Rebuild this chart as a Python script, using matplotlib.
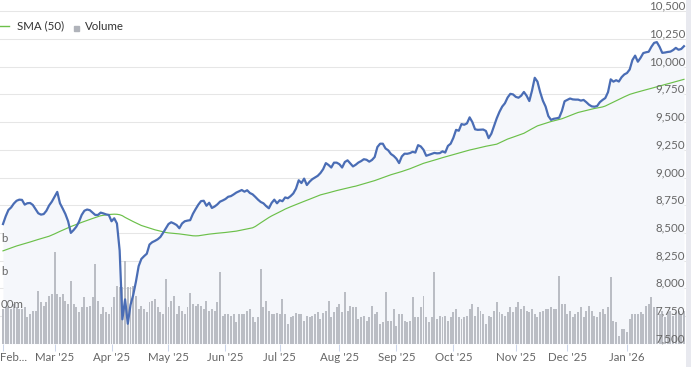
import numpy as np
import pandas as pd
import matplotlib
matplotlib.use('Agg')
import matplotlib.pyplot as plt
import matplotlib.transforms as mtrans
from matplotlib.patches import Rectangle
from matplotlib.lines import Line2D

plt.rcParams['font.family'] = ['Lato', 'DejaVu Sans']

# ---------------- data ----------------
holidays = ['2025-02-17', '2025-04-18', '2025-05-26', '2025-06-19', '2025-07-04',
            '2025-09-01', '2025-11-27', '2025-12-25', '2026-01-01', '2026-01-19']
dates = pd.bdate_range('2025-02-03', '2026-02-03')
dates = dates[~dates.isin(pd.to_datetime(holidays))]

close = [
    8580, 8650, 8707, 8730, 8765, 8790, 8800, 8798, 8755, 8768,
    8770, 8752, 8715, 8677, 8665, 8670, 8700, 8748, 8782, 8825,
    8870, 8767, 8720, 8670, 8605, 8500, 8525, 8555, 8600, 8662,
    8700, 8711, 8705, 8684, 8662, 8662, 8683, 8676, 8667, 8662,
    8605, 8632, 8585, 8340, 7720, 7900, 7680, 7850, 7940, 8060,
    8200, 8265, 8290, 8312, 8395, 8416, 8428, 8442, 8463, 8500,
    8540, 8580, 8596, 8585, 8571, 8542, 8585, 8605, 8611, 8615,
    8672, 8715, 8755, 8787, 8790, 8745, 8772, 8725, 8738, 8757,
    8782, 8793, 8806, 8826, 8832, 8847, 8864, 8875, 8887, 8872,
    8885, 8860, 8848, 8825, 8800, 8779, 8767, 8742, 8722, 8770,
    8800, 8767, 8795, 8786, 8820, 8813, 8832, 8856, 8900, 8975,
    8950, 8990, 8932, 8962, 8985, 9000, 9015, 9040, 9075, 9130,
    9113, 9090, 9134, 9134, 9120, 9090, 9140, 9155, 9128, 9100,
    9115, 9135, 9148, 9165, 9160, 9143, 9158, 9185, 9275, 9305,
    9305, 9262, 9245, 9212, 9195, 9170, 9130, 9190, 9215, 9214,
    9220, 9232, 9225, 9292, 9280, 9250, 9196, 9205, 9215, 9222,
    9218, 9220, 9236, 9225, 9285, 9305, 9358, 9430, 9422, 9482,
    9476, 9488, 9543, 9500, 9435, 9430, 9432, 9433, 9420, 9355,
    9395, 9465, 9535, 9593, 9640, 9670, 9722, 9755, 9750, 9728,
    9720, 9738, 9772, 9738, 9690, 9785, 9900, 9865, 9770, 9693,
    9640, 9555, 9520, 9530, 9534, 9540, 9600, 9688, 9700, 9713,
    9705, 9703, 9703, 9694, 9700, 9680, 9657, 9642, 9639, 9645,
    9680, 9700, 9717, 9770, 9886, 9865, 9878, 9866, 9905, 9930,
    9943, 9975, 10060, 10100, 10045, 10080, 10123, 10130, 10135, 10180,
    10215, 10222, 10180, 10125, 10128, 10133, 10136, 10150, 10170, 10153,
    10160, 10185,
]

sma50 = [
    8338, 8347, 8355, 8364, 8373, 8382, 8389, 8396, 8404, 8411,
    8418, 8426, 8433, 8441, 8448, 8455, 8462, 8470, 8480, 8491,
    8503, 8514, 8525, 8537, 8547, 8557, 8566, 8576, 8586, 8595,
    8604, 8613, 8621, 8630, 8638, 8647, 8655, 8659, 8663, 8666,
    8668, 8669, 8668, 8664, 8655, 8640, 8627, 8615, 8602, 8590,
    8578, 8567, 8559, 8551, 8543, 8535, 8528, 8522, 8516, 8510,
    8504, 8500, 8498, 8496, 8493, 8491, 8488, 8485, 8481, 8477,
    8474, 8473, 8474, 8478, 8481, 8485, 8489, 8492, 8494, 8497,
    8499, 8501, 8504, 8507, 8510, 8513, 8516, 8521, 8526, 8531,
    8536, 8541, 8546, 8558, 8575, 8591, 8607, 8623, 8639, 8653,
    8665, 8677, 8690, 8702, 8715, 8726, 8736, 8746, 8756, 8765,
    8775, 8785, 8794, 8804, 8814, 8824, 8833, 8843, 8849, 8856,
    8862, 8869, 8875, 8882, 8888, 8894, 8900, 8906, 8911, 8917,
    8922, 8929, 8936, 8943, 8950, 8957, 8964, 8972, 8981, 8990,
    8999, 9008, 9017, 9025, 9032, 9040, 9047, 9054, 9062, 9069,
    9079, 9089, 9098, 9108, 9118, 9128, 9135, 9143, 9150, 9157,
    9164, 9172, 9179, 9186, 9193, 9200, 9207, 9214, 9221, 9228,
    9235, 9242, 9248, 9253, 9259, 9265, 9271, 9277, 9282, 9287,
    9291, 9296, 9301, 9312, 9324, 9336, 9347, 9355, 9364, 9373,
    9382, 9390, 9399, 9413, 9426, 9440, 9453, 9466, 9474, 9482,
    9490, 9498, 9505, 9511, 9516, 9522, 9530, 9539, 9549, 9559,
    9569, 9578, 9587, 9593, 9600, 9606, 9612, 9618, 9623, 9627,
    9632, 9637, 9645, 9657, 9669, 9682, 9694, 9706, 9717, 9728,
    9739, 9750, 9758, 9765, 9772, 9778, 9785, 9792, 9798, 9805,
    9812, 9819, 9825, 9832, 9839, 9845, 9852, 9859, 9866, 9872,
    9879, 9886,
]

volume_m = [
    520, 545, 545, 520, 595, 545, 520, 520, 545, 395,
    445, 495, 495, 795, 620, 570, 620, 720, 745, 1370,
    745, 695, 745, 645, 595, 945, 595, 545, 470, 545,
    695, 545, 570, 695, 1195, 645, 445, 545, 470, 445,
    545, 695, 870, 845, 845, 1245, 845, 845, 870, 720,
    520, 570, 520, 470, 620, 645, 670, 545, 470, 445,
    970, 545, 645, 720, 445, 570, 495, 445, 545, 755,
    595, 570, 595, 570, 520, 645, 495, 520, 495, 620,
    1070, 420, 445, 445, 420, 445, 320, 445, 445, 445,
    495, 520, 395, 320, 395, 1120, 545, 645, 495, 445,
    445, 455, 445, 670, 445, 295, 395, 420, 455, 445,
    445, 345, 420, 395, 420, 445, 470, 370, 455, 495,
    645, 395, 470, 545, 595, 470, 770, 495, 570, 545,
    545, 370, 395, 420, 345, 395, 570, 445, 470, 295,
    320, 770, 345, 345, 520, 270, 445, 445, 345, 320,
    345, 695, 395, 395, 545, 720, 395, 320, 395, 1070,
    370, 420, 395, 420, 345, 395, 470, 520, 395, 370,
    395, 420, 520, 595, 420, 545, 495, 445, 295, 420,
    395, 495, 620, 470, 445, 420, 470, 545, 470, 545,
    620, 520, 570, 495, 470, 520, 445, 395, 470, 495,
    520, 520, 545, 520, 520, 1020, 595, 595, 445, 495,
    395, 445, 470, 545, 395, 495, 570, 495, 420, 395,
    470, 520, 445, 545, 995, 345, 320, 120, 220, 220,
    170, 370, 445, 445, 445, 470, 445, 570, 595, 695,
    545, 545, 445, 495, 395, 470, 495, 420, 470, 495,
    445, 495,
]

price_ticks = [7500, 7750, 8000, 8250, 8500, 8750, 9000, 9250, 9500, 9750,
               10000, 10250, 10500]
vol_tick_values = [500, 1000, 1500]
vol_tick_texts = ['00m', 'b', 'b']          # visible (cut-off) part of the labels
month_labels = ["Mar '25", "Apr '25", "May '25", "Jun '25", "Jul '25", "Aug '25",
                "Sep '25", "Oct '25", "Nov '25", "Dec '25", "Jan '26"]
month_keys = [(2025, 3), (2025, 4), (2025, 5), (2025, 6), (2025, 7), (2025, 8),
              (2025, 9), (2025, 10), (2025, 11), (2025, 12), (2026, 1)]

# ---------------- figure ----------------
W, H = 691, 367
fig = plt.figure(figsize=(W / 100, H / 100), dpi=100)
fig.patch.set_facecolor('white')

plot_w = 686
bottom_px = 343.7
rect = [0, (H - bottom_px) / H, plot_w / W, bottom_px / H]
ax = fig.add_axes(rect)                 # background: fill + grid
axv = fig.add_axes(rect, sharex=ax)     # volume
axp = fig.add_axes(rect, sharex=ax)     # price lines
for a in (axv, axp):
    a.patch.set_visible(False)
for a in (ax, axv, axp):
    for s in a.spines.values():
        s.set_visible(False)
    a.tick_params(left=False, right=False, labelleft=False, labelright=False)
for a in (axv, axp):
    a.tick_params(axis='x', bottom=False, labelbottom=False)

x = np.arange(len(close))
px_per_day = 2.713
ax.set_xlim(-3 / px_per_day, (plot_w - 3) / px_per_day)

ylo, yhi = 7500, 10500 + 11.3 * 250 / 27.7
for a in (ax, axp):
    a.set_ylim(ylo, yhi)
axv.set_ylim(0, bottom_px * 15.0)

# background fill and grid
ax.fill_between(x, close, ylo, color='#f5f7fb', lw=0)
ax.set_yticks(price_ticks)
ax.yaxis.grid(True, color='#e6e6e6', lw=0.75)
ax.set_axisbelow(True)
axv.set_yticks([])
axp.set_yticks([])

# volume
axv.bar(x, volume_m, width=0.72, color='#babdc4', lw=0)

# lines
axp.plot(x, sma50, color='#6cc04a', lw=0.85)
axp.plot(x, close, color='#4a6db5', lw=1.6, solid_joinstyle='round')

# x ticks
tick_idx = [int(np.where((dates.year == y) & (dates.month == m))[0][0]) for y, m in month_keys]
ax.set_xticks([0] + tick_idx)
ax.set_xticklabels([''] + month_labels)
ax.tick_params(axis='x', length=5, width=0.75, color='#ccd6eb', labelsize=8.3,
               labelcolor='#666666', pad=1)
feb_trans = mtrans.offset_copy(ax.transAxes, fig, x=0, y=-6, units='points')
ax.text(0, 0, 'Feb...', transform=feb_trans, ha='left', va='top', fontsize=8.3,
        color='#666666', clip_on=False)

# right price labels
off = mtrans.ScaledTranslation(0, 1.5 / 100, fig.dpi_scale_trans)
rtrans = mtrans.blended_transform_factory(axp.transAxes, axp.transData) + off
for t in price_ticks:
    axp.text(685 / plot_w, t, f'{t:,}', transform=rtrans, ha='right', va='baseline',
             fontsize=8.3, color='#666666', clip_on=False)

# left volume labels
off2 = mtrans.ScaledTranslation(0, 2 / 100, fig.dpi_scale_trans)
ltrans = mtrans.blended_transform_factory(axv.transAxes, axv.transData) + off2
for v, s in zip(vol_tick_values, vol_tick_texts):
    axv.text(1 / plot_w, v, s, transform=ltrans, ha='left', va='baseline',
             fontsize=8.3, color='#666666', clip_on=False)

# legend
ly = 1 - 26 / H
fig.add_artist(Line2D([0, 9 / W], [ly, ly], color='#6cc04a', lw=1, transform=fig.transFigure))
fig.text(17 / W, ly, 'SMA (50)', ha='left', va='center', fontsize=8.3, color='#333333')
fig.add_artist(Rectangle((73.5 / W, 1 - 31 / H), 5 / W, 5 / H, color='#b0b3ba',
                         transform=fig.transFigure))
fig.text(85 / W, ly, 'Volume', ha='left', va='center', fontsize=8.3, color='#333333')

# right scrollbar strip
fig.add_artist(Rectangle((plot_w / W, 0), (W - plot_w) / W, 1, color='#e8e9ef',
                         transform=fig.transFigure, lw=0))

fig.savefig('out.png', dpi=100, facecolor='white')
